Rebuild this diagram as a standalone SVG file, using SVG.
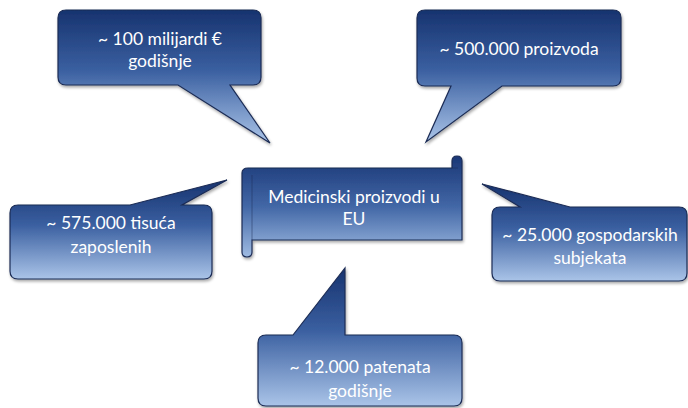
<svg xmlns="http://www.w3.org/2000/svg" width="688" height="408" viewBox="0 0 688 408">
<defs>
<linearGradient id="gc" x1="0" y1="0" x2="0" y2="1">
<stop offset="0" stop-color="#17336f"/>
<stop offset="0.45" stop-color="#3a5fa0"/>
<stop offset="1" stop-color="#aac4e8"/>
</linearGradient>
<linearGradient id="gs" x1="0" y1="0" x2="0" y2="1">
<stop offset="0" stop-color="#1a3776"/>
<stop offset="0.5" stop-color="#4267a6"/>
<stop offset="1" stop-color="#9fbbe2"/>
</linearGradient>
<filter id="sh" x="-10%" y="-10%" width="120%" height="130%">
<feGaussianBlur in="SourceAlpha" stdDeviation="1.5"/>
<feOffset dx="1" dy="2"/>
<feComponentTransfer><feFuncA type="linear" slope="0.35"/></feComponentTransfer>
<feMerge><feMergeNode/><feMergeNode in="SourceGraphic"/></feMerge>
</filter>
</defs>
<style>
.c{fill:url(#gc);stroke:#1b2c55;stroke-width:1.2;filter:url(#sh)}
.t{font-family:Lato,"Open Sans","Liberation Sans",sans-serif;font-size:17.5px;fill:#ffffff;text-anchor:middle}
</style>
<rect width="688" height="408" fill="#ffffff"/>
<g id="connectors"></g>
<g id="n1">
<path class="c" d="M66,10 H253 Q261,10 261,18 V77 Q261,85 253,85 H230 L270,143 L178,85 H66 Q58,85 58,77 V18 Q58,10 66,10 Z"/>
<text class="t" x="160" y="45">~ 100 milijardi €</text>
<text class="t" x="160" y="67">godišnje</text>
</g>
<g id="n2">
<path class="c" d="M425,10 H613 Q621,10 621,18 V78 Q621,86 613,86 H502 L426,142 L451,86 H425 Q417,86 417,78 V18 Q417,10 425,10 Z"/>
<text class="t" x="519" y="55">~ 500.000 proizvoda</text>
</g>
<g id="n3">
<path class="c" d="M18,205 H130 L227,180 L182,205 H204 Q212,205 212,213 V271 Q212,279 204,279 H18 Q10,279 10,271 V213 Q10,205 18,205 Z"/>
<text class="t" x="111" y="229">~ 575.000 tisuća</text>
<text class="t" x="111" y="253">zaposlenih</text>
</g>
<g id="n4">
<path class="c" d="M500,207 H520 L482,184 L570,207 H679 Q687,207 687,215 V273 Q687,281 679,281 H500 Q492,281 492,273 V215 Q492,207 500,207 Z"/>
<text class="t" x="590" y="241">~ 25.000 gospodarskih</text>
<text class="t" x="590" y="264">subjekata</text>
</g>
<g id="n5">
<path class="c" d="M266,335 H293 L345,268 V335 H454 Q462,335 462,343 V398 Q462,406 454,406 H266 Q258,406 258,398 V343 Q258,335 266,335 Z"/>
<text class="t" x="360" y="373">~ 12.000 patenata</text>
<text class="t" x="360" y="397">godišnje</text>
</g>
<g id="center">
<path class="c" style="fill:url(#gs)" d="M248,168 H452 V161 Q452,156 457,156 Q462,156 462,161 V240 H252 V252 Q252,257 247,257 Q242,257 242,252 V173 Q242,168 248,168 Z"/>
<path d="M452,168 H458 M252,240 V175" fill="none" stroke="#1b2c55" stroke-width="0.8" opacity="0.6"/>
<text class="t" x="354" y="203">Medicinski proizvodi u</text>
<text class="t" x="354" y="225">EU</text>
</g>
</svg>
